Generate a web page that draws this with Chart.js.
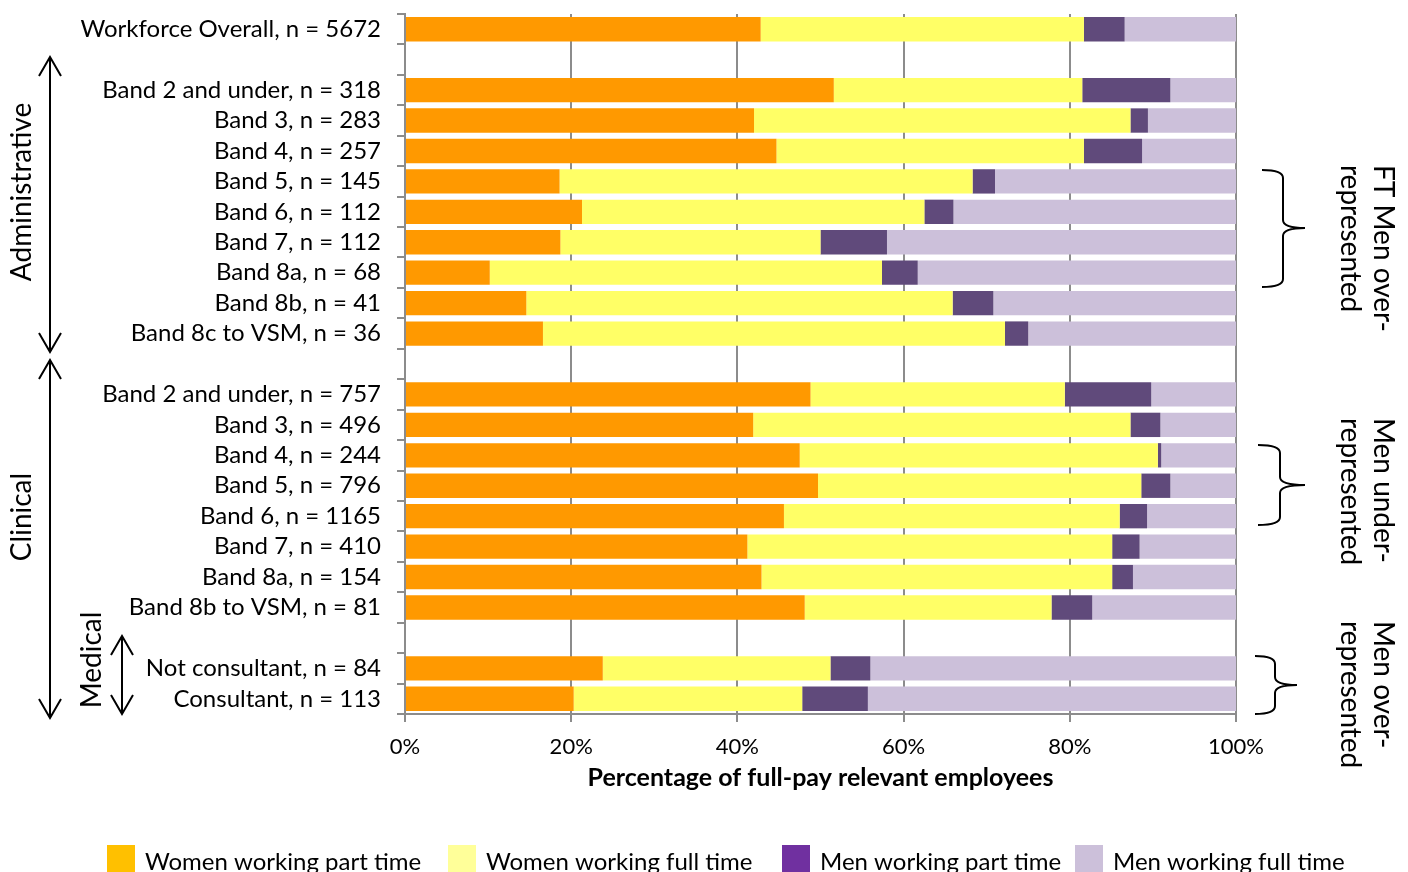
<!DOCTYPE html>
<html><head><meta charset="utf-8">
<script src="https://cdn.jsdelivr.net/npm/chart.js@4.4.1/dist/chart.umd.min.js"></script>
<style>html,body{margin:0;padding:0;background:#fff}#wrap{width:1408px;height:872px;position:relative;overflow:hidden}</style>
</head><body><div id="wrap"><canvas id="c" width="1408" height="872"></canvas></div>
<script>
const categories = [
  "Workforce Overall, n = 5672", "",
  "Band 2 and under, n = 318", "Band 3, n = 283", "Band 4, n = 257", "Band 5, n = 145",
  "Band 6, n = 112", "Band 7, n = 112", "Band 8a, n = 68", "Band 8b, n = 41", "Band 8c to VSM, n = 36", "",
  "Band 2 and under, n = 757", "Band 3, n = 496", "Band 4, n = 244", "Band 5, n = 796",
  "Band 6, n = 1165", "Band 7, n = 410", "Band 8a, n = 154", "Band 8b to VSM, n = 81", "",
  "Not consultant, n = 84", "Consultant, n = 113"
];
const womenPartTime = [42.8, null, 51.6, 42.0, 44.7, 18.6, 21.3, 18.7, 10.2, 14.6, 16.6, null, 48.8, 41.9, 47.5, 49.7, 45.6, 41.2, 42.9, 48.1, null, 23.8, 20.3];
const womenFullTime = [38.9, null, 29.9, 45.3, 37.0, 49.7, 41.2, 31.3, 47.2, 51.3, 55.6, null, 30.6, 45.4, 43.1, 38.9, 40.4, 43.9, 42.2, 29.7, null, 27.4, 27.5];
const menPartTime   = [4.9, null, 10.6, 2.1, 7.0, 2.7, 3.5, 8.0, 4.3, 4.9, 2.8, null, 10.4, 3.6, 0.4, 3.5, 3.3, 3.3, 2.5, 4.9, null, 4.8, 7.9];
const menFullTime   = [13.4, null, 7.9, 10.6, 11.3, 29.0, 34.0, 42.0, 38.3, 29.2, 25.0, null, 10.2, 9.1, 9.0, 7.9, 10.7, 11.6, 12.4, 17.3, null, 44.0, 44.3];
const seriesNames = ["Women working part time", "Women working full time", "Men working part time", "Men working full time"];
const xTickValues = [0, 20, 40, 60, 80, 100];
const xTitle = "Percentage of full-pay relevant employees";
const groupLabels = ["Administrative", "Clinical", "Medical"];
const noteLines = [["FT Men over-", "represented"], ["Men under-", "represented"], ["Men over-", "represented"]];

const barColors = ["#FF9900", "#FFFF66", "#604A7B", "#CCC0DA"];
const legendColors = ["#FFC000", "#FFFF99", "#7030A0", "#CCC0DA"];
const FONT = "Lato, 'Liberation Sans', sans-serif";
const gridColor = "#8C8C8C";

const seriesData = [womenPartTime, womenFullTime, menPartTime, menFullTime];

function arrowV(ctx, x, y1, y2) {
  ctx.beginPath();
  ctx.moveTo(x, y1); ctx.lineTo(x, y2);
  ctx.moveTo(x - 11, y1 + 19); ctx.lineTo(x, y1); ctx.lineTo(x + 11, y1 + 19);
  ctx.moveTo(x - 11, y2 - 19); ctx.lineTo(x, y2); ctx.lineTo(x + 11, y2 - 19);
  ctx.stroke();
}
function brace(ctx, x0, x1, x2, yTop, yMid, yBot) {
  const r = 8;
  ctx.beginPath();
  ctx.moveTo(x0, yTop);
  ctx.quadraticCurveTo(x1, yTop, x1, yTop + r);
  ctx.lineTo(x1, yMid - r);
  ctx.quadraticCurveTo(x1, yMid, x2, yMid);
  ctx.quadraticCurveTo(x1, yMid, x1, yMid + r);
  ctx.lineTo(x1, yBot - r);
  ctx.quadraticCurveTo(x1, yBot, x0, yBot);
  ctx.stroke();
}
function rotText(ctx, text, x, y, angle, align) {
  ctx.save();
  ctx.translate(x, y);
  ctx.rotate(angle);
  ctx.textAlign = align;
  ctx.textBaseline = "middle";
  ctx.fillText(text, 0, 0);
  ctx.restore();
}

const annotations = {
  id: "annotations",
  afterDraw(chart) {
    const ctx = chart.ctx;
    ctx.save();
    ctx.strokeStyle = "#000";
    ctx.fillStyle = "#000";
    ctx.lineWidth = 2;
    arrowV(ctx, 50, 57, 352);
    arrowV(ctx, 50, 360, 718);
    arrowV(ctx, 122, 636, 714);
    ctx.font = "28px " + FONT;
    rotText(ctx, groupLabels[0], 22, 192, -Math.PI / 2, "center");
    rotText(ctx, groupLabels[1], 22, 517, -Math.PI / 2, "center");
    rotText(ctx, groupLabels[2], 92, 660, -Math.PI / 2, "center");
    brace(ctx, 1262, 1283, 1305, 170, 228, 287);
    brace(ctx, 1258, 1280, 1305, 445, 485, 525);
    brace(ctx, 1255, 1275, 1297, 656, 685, 714);
    const starts = [165, 418, 621];
    noteLines.forEach((lines, i) => {
      rotText(ctx, lines[0], 1383, starts[i], Math.PI / 2, "left");
      rotText(ctx, lines[1], 1350, starts[i], Math.PI / 2, "left");
    });
    const lx = [107, 448, 782, 1075];
    ctx.font = "24px " + FONT;
    ctx.textAlign = "left";
    ctx.textBaseline = "middle";
    seriesNames.forEach((name, i) => {
      ctx.fillStyle = legendColors[i];
      ctx.fillRect(lx[i], 845, 28, 30);
      ctx.fillStyle = "#000";
      ctx.fillText(name, lx[i] + 38, 862);
    });
    ctx.restore();
  }
};

new Chart(document.getElementById("c"), {
  type: "bar",
  data: {
    labels: categories,
    datasets: seriesNames.map((name, i) => ({
      label: name,
      data: seriesData[i],
      backgroundColor: barColors[i],
      borderWidth: 0,
      barPercentage: 0.8,
      categoryPercentage: 1.0
    }))
  },
  options: {
    indexAxis: "y",
    responsive: false,
    animation: false,
    devicePixelRatio: 1,
    layout: { padding: { left: 0, right: 172, top: 14, bottom: 58 } },
    plugins: { legend: { display: false }, tooltip: { enabled: false } },
    scales: {
      x: {
        stacked: true,
        min: 0, max: 100,
        afterBuildTicks(scale) { scale.ticks = xTickValues.map(v => ({ value: v })); },
        afterFit(scale) { scale.height = 100; scale.paddingLeft = 0; scale.paddingRight = 0; },
        ticks: { callback: v => v + "%", color: "#000", font: { family: FONT, size: 22 }, padding: 12, maxRotation: 0 },
        grid: { color: gridColor, lineWidth: 2, tickLength: 8 },
        border: { color: gridColor, width: 2 },
        title: { display: true, text: xTitle, color: "#000", font: { family: FONT, size: 25, weight: "bold" }, padding: { top: 0, bottom: 21 } }
      },
      y: {
        stacked: true,
        afterFit(scale) { scale.width = 405; scale.paddingTop = 0; scale.paddingBottom = 0; },
        ticks: { color: "#000", font: { family: FONT, size: 24 }, padding: 16, autoSkip: false },
        grid: { offset: true, drawOnChartArea: false, color: gridColor, lineWidth: 2, tickLength: 8 },
        border: { color: gridColor, width: 2 }
      }
    }
  },
  plugins: [annotations]
});
</script></body></html>
